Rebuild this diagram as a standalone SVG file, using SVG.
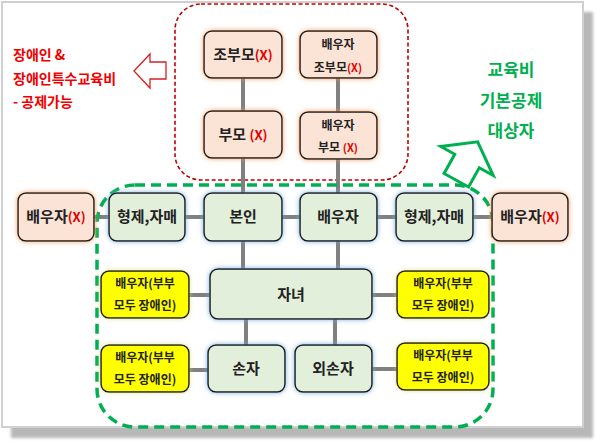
<svg xmlns="http://www.w3.org/2000/svg" width="600" height="443" viewBox="0 0 600 443">
<defs>
<filter id="glowO" x="-20%" y="-20%" width="140%" height="140%">
<feGaussianBlur in="SourceAlpha" stdDeviation="2.5" result="b"/>
<feFlood flood-color="#F0985A" flood-opacity="0.9"/>
<feComposite in2="b" operator="in"/>
<feMerge><feMergeNode/><feMergeNode in="SourceGraphic"/></feMerge>
</filter>
<filter id="glowB" x="-20%" y="-20%" width="140%" height="140%">
<feGaussianBlur in="SourceAlpha" stdDeviation="2.5" result="b"/>
<feFlood flood-color="#6FA8DC" flood-opacity="0.9"/>
<feComposite in2="b" operator="in"/>
<feMerge><feMergeNode/><feMergeNode in="SourceGraphic"/></feMerge>
</filter>
<filter id="glowY" x="-20%" y="-20%" width="140%" height="140%">
<feGaussianBlur in="SourceAlpha" stdDeviation="2" result="b"/>
<feFlood flood-color="#D8D870" flood-opacity="0.7"/>
<feComposite in2="b" operator="in"/>
<feMerge><feMergeNode/><feMergeNode in="SourceGraphic"/></feMerge>
</filter>
<filter id="shadow" x="-5%" y="-5%" width="110%" height="110%">
<feGaussianBlur stdDeviation="1.5"/>
</filter>
</defs>
<style>
text{font-family:"Noto Sans CJK KR","Noto Sans",sans-serif;font-weight:bold;text-anchor:middle}
.pe{fill:#FBE3D5;stroke:#1a1a1a;stroke-width:1.5}
.gr{fill:#E2EFDA;stroke:#1a1a1a;stroke-width:1.5}
.ye{fill:#FFFF00;stroke:#1a1a1a;stroke-width:1.5}
.t{font-size:15px;fill:#222}
.s{font-size:12px;fill:#222}
.x{fill:#E00000}
.c line{stroke:#808080;stroke-width:4}
</style>
<rect x="11" y="12" width="582" height="426" fill="#b8b8b8" filter="url(#shadow)"/>
<rect x="2" y="2" width="581" height="425" fill="#fff" stroke="#d0d0d0" stroke-width="2"/>
<rect x="175" y="4" width="233" height="176" rx="26" fill="none" stroke="#C00000" stroke-width="1.6" stroke-dasharray="4,2.5"/>
<g class="c">
<line x1="243" y1="78" x2="243" y2="111"/>
<line x1="243" y1="158" x2="243" y2="193"/>
<line x1="338" y1="78" x2="338" y2="112"/>
<line x1="338" y1="159" x2="338" y2="193"/>
<line x1="94" y1="217" x2="109" y2="217"/>
<line x1="185" y1="217" x2="204" y2="217"/>
<line x1="282" y1="217" x2="300" y2="217"/>
<line x1="377" y1="217" x2="396" y2="217"/>
<line x1="473" y1="217" x2="492" y2="217"/>
<line x1="243" y1="241" x2="243" y2="269"/>
<line x1="338" y1="241" x2="338" y2="269"/>
<line x1="189" y1="295" x2="210" y2="295"/>
<line x1="372" y1="295" x2="397" y2="295"/>
<line x1="246" y1="319" x2="246" y2="345"/>
<line x1="335" y1="319" x2="335" y2="345"/>
<line x1="189" y1="370" x2="208" y2="370"/>
<line x1="372" y1="369" x2="397" y2="369"/>
</g>
<rect x="97" y="185" width="396" height="242" rx="38" fill="none" stroke="#00B050" stroke-width="3.5" stroke-dasharray="10,6"/>
<g id="n-grandparents"><rect class="pe" filter="url(#glowO)" x="204" y="31" width="78" height="47" rx="8"/><text class="t" x="243" y="60">조부모<tspan class="x" font-size="13">(X)</tspan></text></g>
<g id="n-parents"><rect class="pe" filter="url(#glowO)" x="204" y="111" width="78" height="47" rx="8"/><text class="t" x="243" y="140">부모 <tspan class="x" font-size="13">(X)</tspan></text></g>
<g id="n-sp-grandparents"><rect class="pe" filter="url(#glowO)" x="300" y="31" width="77" height="47" rx="8"/><text class="s" x="338" y="49">배우자</text><text class="s" x="338" y="72">조부모<tspan class="x" font-size="11">(X)</tspan></text></g>
<g id="n-sp-parents"><rect class="pe" filter="url(#glowO)" x="300" y="112" width="77" height="47" rx="8"/><text class="s" x="338" y="130">배우자</text><text class="s" x="338" y="152">부모 <tspan class="x" font-size="11">(X)</tspan></text></g>
<g id="n-spouse-left"><rect class="pe" filter="url(#glowO)" x="18" y="193" width="76" height="48" rx="8"/><text class="t" x="56" y="222">배우자<tspan class="x" font-size="13">(X)</tspan></text></g>
<g id="n-sib-left"><rect class="gr" filter="url(#glowB)" x="109" y="193" width="76" height="48" rx="8"/><text class="t" x="147" y="222">형제,자매</text></g>
<g id="n-self"><rect class="gr" filter="url(#glowB)" x="204" y="193" width="78" height="48" rx="8"/><text class="t" x="243" y="222">본인</text></g>
<g id="n-spouse"><rect class="gr" filter="url(#glowB)" x="300" y="193" width="77" height="48" rx="8"/><text class="t" x="338" y="222">배우자</text></g>
<g id="n-sib-right"><rect class="gr" filter="url(#glowB)" x="396" y="193" width="77" height="48" rx="8"/><text class="t" x="434" y="222">형제,자매</text></g>
<g id="n-spouse-right"><rect class="pe" filter="url(#glowO)" x="492" y="193" width="76" height="48" rx="8"/><text class="t" x="530" y="222">배우자<tspan class="x" font-size="13">(X)</tspan></text></g>
<g id="n-children"><rect class="gr" filter="url(#glowB)" x="210" y="269" width="162" height="50" rx="8"/><text class="t" x="291" y="300">자녀</text></g>
<g id="n-y1"><rect class="ye" filter="url(#glowY)" x="101" y="271" width="88" height="47" rx="8"/><text class="s" x="145" y="288">배우자(부부</text><text class="s" x="145" y="310">모두 장애인)</text></g>
<g id="n-y2"><rect class="ye" filter="url(#glowY)" x="397" y="271" width="92" height="47" rx="8"/><text class="s" x="443" y="288">배우자(부부</text><text class="s" x="443" y="310">모두 장애인)</text></g>
<g id="n-grandchild"><rect class="gr" filter="url(#glowB)" x="208" y="345" width="77" height="47" rx="8"/><text class="t" x="246" y="374">손자</text></g>
<g id="n-ext-grandchild"><rect class="gr" filter="url(#glowB)" x="295" y="345" width="77" height="47" rx="8"/><text class="t" x="333" y="374">외손자</text></g>
<g id="n-y3"><rect class="ye" filter="url(#glowY)" x="101" y="345" width="88" height="47" rx="8"/><text class="s" x="145" y="362">배우자(부부</text><text class="s" x="145" y="384">모두 장애인)</text></g>
<g id="n-y4"><rect class="ye" filter="url(#glowY)" x="397" y="343" width="92" height="47" rx="8"/><text class="s" x="443" y="360">배우자(부부</text><text class="s" x="443" y="382">모두 장애인)</text></g>
<polygon points="134,71 150,54 150,62 166,62 166,79 150,79 150,88" fill="#fff" stroke="#D62020" stroke-width="1.3"/>
<g font-size="14" fill="#F00000" style="text-anchor:start">
<text x="13" y="60" style="text-anchor:start">장애인 &amp;</text>
<text x="13" y="84" style="text-anchor:start">장애인특수교육비</text>
<text x="13" y="107" style="text-anchor:start">- 공제가능</text>
</g>
<polygon transform="translate(467,161) rotate(29)" points="0,-22 30,0 14,0 14,22 -14,22 -14,0 -30,0" fill="#fff" stroke="#00B050" stroke-width="3" stroke-linejoin="miter"/>
<g font-size="17" fill="#00B050">
<text x="511" y="76">교육비</text>
<text x="511" y="107">기본공제</text>
<text x="511" y="137">대상자</text>
</g>
</svg>
